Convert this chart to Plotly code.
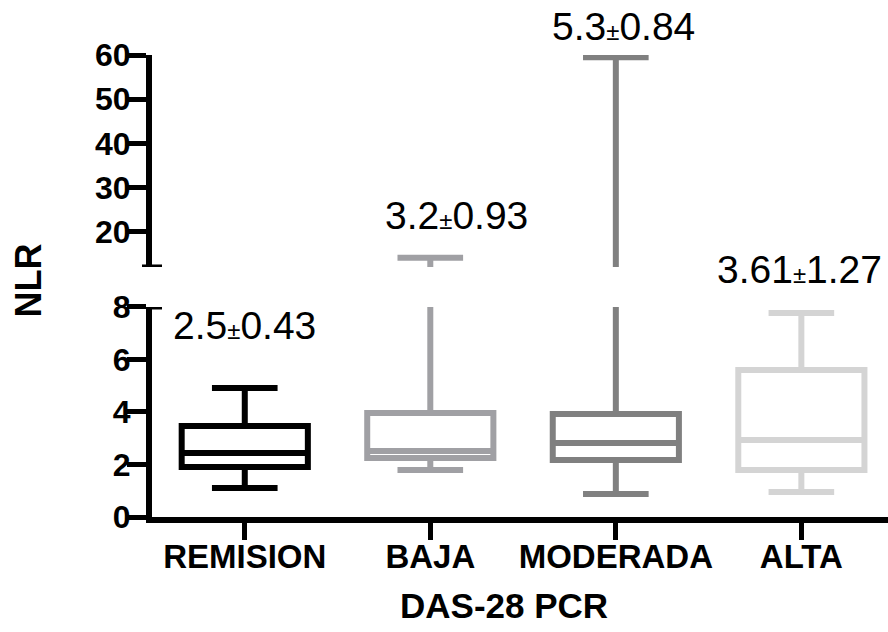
import plotly.graph_objects as go

categories = ["REMISION", "BAJA", "MODERADA", "ALTA"]
mins = [1.1, 1.79, 0.88, 0.95]
q1s = [1.9, 2.25, 2.17, 1.79]
medians = [2.44, 2.51, 2.82, 2.93]
q3s = [3.47, 3.96, 3.92, 5.6]
maxs = [4.91, 14.1, 59.5, 7.77]
colors = ["#000000", "#a0a0a4", "#808080", "#d4d4d4"]
labels = ["2.5", "3.2", "5.3", "3.61"]
sds = ["0.43", "0.93", "0.84", "1.27"]

lower_ticks = [0, 2, 4, 6, 8]
upper_ticks = [20, 30, 40, 50, 60]

FONT = "Liberation Sans, Arial, sans-serif"

fig = go.Figure()
for axis in ["y", "y2"]:
    for i, cat in enumerate(categories):
        fig.add_trace(go.Box(
            x=[i], q1=[q1s[i]], median=[medians[i]], q3=[q3s[i]],
            lowerfence=[mins[i]], upperfence=[maxs[i]],
            boxpoints=False, width=0.68, whiskerwidth=0.52,
            line=dict(color=colors[i], width=6),
            fillcolor="rgba(0,0,0,0)", yaxis=axis, xaxis="x",
            hoverinfo="skip", showlegend=False,
        ))

# annotation placement: x offset (data units) and y (paper fraction)
ann_dx = [0.0, 0.14, 0.04, -0.01]
ann_y = [0.371, 0.584, 0.948, 0.478]
for i in range(len(categories)):
    fig.add_annotation(
        x=i + ann_dx[i], y=ann_y[i], xref="x", yref="paper", showarrow=False,
        text=f"{labels[i]}<span style='font-size:24px'>±</span>{sds[i]}",
        font=dict(family=FONT, size=39, color="#000000"),
        xanchor="center", yanchor="middle",
    )

fig.add_annotation(x=-0.168, y=0.458, xref="paper", yref="paper", showarrow=False,
                   text="<b>NLR</b>", textangle=-90, xanchor="center", yanchor="middle",
                   font=dict(family=FONT, size=36, color="#000000"))
fig.add_annotation(x=0.478, y=-0.172, xref="paper", yref="paper", showarrow=False,
                   text="<b>DAS-28 PCR</b>", xanchor="center", yanchor="middle",
                   font=dict(family=FONT, size=35, color="#000000"))

# axis break caps
fig.add_shape(type="line", xref="paper", yref="y", x0=0, x1=10/736, y0=8, y1=8,
              line=dict(color="#000000", width=5))
fig.add_shape(type="line", xref="paper", yref="y2", x0=-10/736, x1=10/736, y0=12, y1=12,
              line=dict(color="#000000", width=5))

axis_common = dict(showgrid=False, zeroline=False, showline=True, linecolor="#000000",
                   linewidth=6, ticks="outside", tickwidth=5, tickcolor="#000000",
                   automargin=False)
num_font = dict(family=FONT, size=32, color="#000000")

fig.update_layout(
    template="none",
    width=888, height=632,
    margin=dict(l=152, r=0, t=0, b=115, autoexpand=False),
    paper_bgcolor="white", plot_bgcolor="white",
    boxmode="overlay",
    xaxis=dict(range=[-0.5, 3.467], tickvals=list(range(len(categories))),
               ticktext=[f"<b>{c}</b>" for c in categories], ticklen=17,
               ticklabelstandoff=-12,
               tickfont=dict(family=FONT, size=33, color="#000000"), **axis_common),
    yaxis=dict(domain=[0, 0.4062], range=[0, 8], tickvals=lower_ticks,
               ticktext=[f"<b>{t}</b>" for t in lower_ticks], ticklen=19,
               ticklabelstandoff=-10, tickfont=num_font, **axis_common),
    yaxis2=dict(domain=[0.4836, 0.8936], range=[12, 60], tickvals=upper_ticks,
                ticktext=[f"<b>{t}</b>" for t in upper_ticks], ticklen=19,
                ticklabelstandoff=-10, anchor="x", tickfont=num_font, **axis_common),
)

fig.write_html("out.html", config={"displayModeBar": False},
               post_script="document.body.style.margin='0';")
